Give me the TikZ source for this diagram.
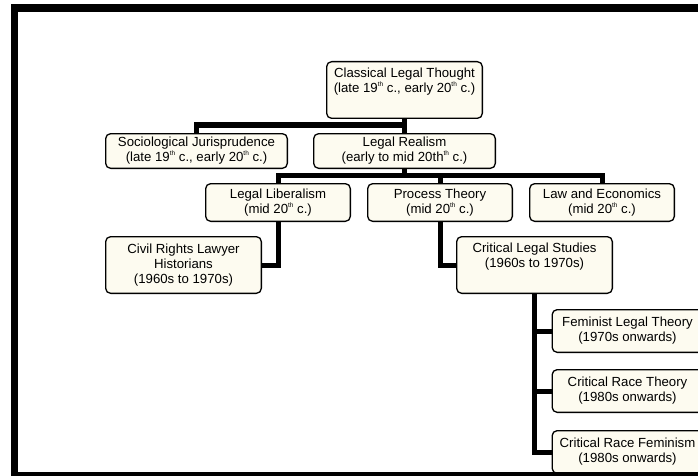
\documentclass[tikz,border=0pt]{standalone}
\usepackage{fontspec}
\setmainfont{Liberation Sans}
\usepackage{tikz}
\usetikzlibrary{positioning,backgrounds}
\definecolor{cream}{RGB}{253,251,240}
\newcommand{\thsup}{\raisebox{0.85ex}{\fontsize{6.5}{7}\selectfont th}}
\tikzstyle{school} = [rectangle, rounded corners=5pt, draw=black, line width=1.3pt, fill=cream, text=black, align=center, inner sep=0pt, font=\fontsize{13.2}{15}\selectfont]
\tikzstyle{tallschool} = [school, minimum width=155.7pt, minimum height=56.7pt]
\tikzstyle{wideschool} = [school, minimum width=181.7pt, minimum height=34.7pt]
\tikzstyle{midschool} = [school, minimum width=144.7pt, minimum height=37.7pt]
\tikzstyle{leafschool} = [school, minimum width=150.7pt, minimum height=42.7pt]
\tikzstyle{tbranch} = [draw, line width=5pt, line join=miter]
\tikzstyle{frame} = [draw=black, line width=7.5pt]
\begin{document}
\begin{tikzpicture}
\useasboundingbox (0,0) rectangle (698pt,-476pt);

% schools =============================
\node[tallschool] (classical) at (404.5pt,-90pt) {Classical Legal Thought\\(late 19\thsup{} c., early 20\thsup{} c.)\\ \strut};
\node[wideschool, below=14pt of classical] (realism) {Legal Realism\\(early to mid 20th\thsup{} c.)};
\node[wideschool, left=25pt of realism] (socio) {Sociological Jurisprudence\\(late 19\thsup{} c., early 20\thsup{} c.)};
\node[midschool, below=14pt of realism, xshift=35.5pt] (process) {Process Theory\\(mid 20\thsup{} c.)};
\node[midschool, left=16pt of process] (liberal) {Legal Liberalism\\(mid 20\thsup{} c.)};
\node[midschool, right=16pt of process] (econ) {Law and Economics\\(mid 20\thsup{} c.)};
\node[tallschool, below left=14pt and 89pt of liberal.south east] (civil) {Civil Rights Lawyer\\Historians\\(1960s to 1970s)};
\node[tallschool, below right=14pt and 89pt of process.south west] (cls) {Critical Legal Studies\\(1960s to 1970s)\\ \strut};
\node[leafschool, below right=15pt and 17pt of cls.south] (feminist) {Feminist Legal Theory\\(1970s onwards)};
\node[leafschool, below=16pt of feminist] (crt) {Critical Race Theory\\(1980s onwards)};
\node[leafschool, below=17pt of crt] (crf) {Critical Race Feminism\\(1980s onwards)};

% edges
\begin{scope}[on background layer]
\path[tbranch] (classical.south) -- ++(0,-6pt) coordinate (cbus) -| (socio.north);
\path[tbranch] (cbus) -- (realism.north);
\path[tbranch] (realism.south) -- ++(0,-6pt) coordinate (rbus);
\path[tbranch] (liberal.north) |- (rbus) -| (econ.north);
\path[tbranch] (rbus) -| (process.north);
\path[tbranch] (liberal.south) |- (civil.east);
\path[tbranch] (process.south) |- (cls.west);
\path[tbranch] (cls.south) |- (feminist.west);
\path[tbranch] (cls.south) |- (crt.west);
\path[tbranch] (cls.south) |- (crf.west);
\end{scope}

% frame
\draw[frame] (14.5pt,-8pt) rectangle (720pt,-476pt);

\end{tikzpicture}
\end{document}
